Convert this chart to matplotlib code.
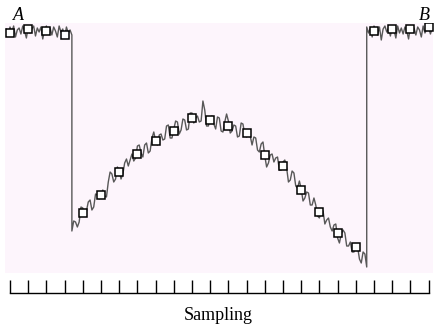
import numpy as np
import matplotlib
matplotlib.use("Agg")
import matplotlib.pyplot as plt

# sampling positions (one per tick) and the square markers on the signal
sample_idx = list(range(24))
marker_vals = [240, 244, 242, 238, 60, 78, 101, 119, 132, 142, 155, 153,
               147, 140, 118, 107, 83, 61, 40, 26, 242, 244, 244, 246]

step = 0.1
left_start = -0.2
left_vals = [244, 238, 246, 241, 247, 236, 243, 245, 239, 247,
             242, 235, 246, 240, 244, 247, 237, 245, 241, 246,
             234, 243, 247, 240, 245, 238, 246, 242, 236, 247,
             241, 244, 235, 246, 240, 243, 238]
mid_start = 3.4
mid_vals = [42, 52, 51, 46, 51, 66, 65, 57, 62, 71, 73, 63, 66, 79, 78, 74, 79, 83, 77, 76,
            91, 101, 99, 91, 94, 106, 103, 94, 99, 110, 114, 107, 113, 119, 112, 115, 127, 128, 120, 116,
            128, 130, 120, 122, 135, 141, 132, 128, 138, 139, 133, 134, 147, 148, 135, 135, 144, 152, 151, 139,
            143, 154, 153, 143, 144, 160, 160, 150, 155, 157, 151, 152, 172, 163, 147, 147, 156, 157, 149, 144,
            156, 155, 142, 141, 151, 159, 152, 140, 142, 148, 147, 136, 137, 150, 149, 138, 136, 141, 137, 128,
            136, 135, 123, 121, 129, 131, 117, 106, 110, 118, 119, 111, 115, 116, 103, 103, 111, 113, 105, 91,
            93, 102, 100, 87, 85, 92, 84, 72, 75, 81, 80, 68, 68, 75, 68, 57, 55, 63, 62, 49,
            53, 55, 46, 42, 48, 49, 35, 30, 39, 43, 40, 27, 27, 31, 21, 21, 29, 26, 14, 10,
            21, 19, 6]
right_start = 19.6
right_vals = [246, 240, 245, 236, 247, 242, 238, 246, 233, 244,
              247, 241, 245, 237, 246, 243, 235, 247, 240, 245,
              239, 246, 242, 234, 247, 241, 245, 238, 246, 243,
              236, 247, 240, 244, 246, 239, 245]

trace_x = np.concatenate([left_start + step * np.arange(len(left_vals)),
                          mid_start + step * np.arange(len(mid_vals)),
                          right_start + step * np.arange(len(right_vals))])
trace_y = np.array(left_vals + mid_vals + right_vals)

W, H = 442, 326
fig = plt.figure(figsize=(W / 100, H / 100), dpi=100)

x0 = (5 - 10) / 18.2
x1 = (433 - 10) / 18.2

ax = fig.add_axes([5 / W, 1 - 273 / H, 428 / W, 250 / H])
ax.set_facecolor("#fdf5fc")
ax.plot(trace_x, trace_y, color="#585858", lw=1.0, zorder=2)
ax.plot(sample_idx, marker_vals, ls="none", marker="s", ms=5.6,
        mfc="white", mec="black", mew=1.1, zorder=3)
ax.set_xlim(x0, x1)
ax.set_ylim(0, 250)
ax.set_xticks([])
ax.set_yticks([])
for s in ax.spines.values():
    s.set_visible(False)

# tick strip below the plot
tax = fig.add_axes([5 / W, 1 - 293 / H, 428 / W, 0.04])
tax.set_xlim(x0, x1)
tax.set_ylim(0, 1)
tax.patch.set_visible(False)
for name in ["top", "left", "right"]:
    tax.spines[name].set_visible(False)
tax.spines["bottom"].set_bounds(0, 23)
tax.spines["bottom"].set_linewidth(1.0)
tax.set_xticks(sample_idx)
tax.set_xticklabels([])
tax.set_yticks([])
tax.tick_params(axis="x", direction="in", length=9.4, width=1.0, color="black")

fig.text(218 / W, 1 - 316 / H, "Sampling", ha="center", va="center",
         family="Liberation Serif", fontsize=13)
fig.text(18 / W, 1 - 15 / H, "A", ha="center", va="center",
         family="Liberation Serif", style="italic", fontsize=13)
fig.text(424 / W, 1 - 16 / H, "B", ha="center", va="center",
         family="Liberation Serif", style="italic", fontsize=13)

fig.savefig("out.png", dpi=100)
